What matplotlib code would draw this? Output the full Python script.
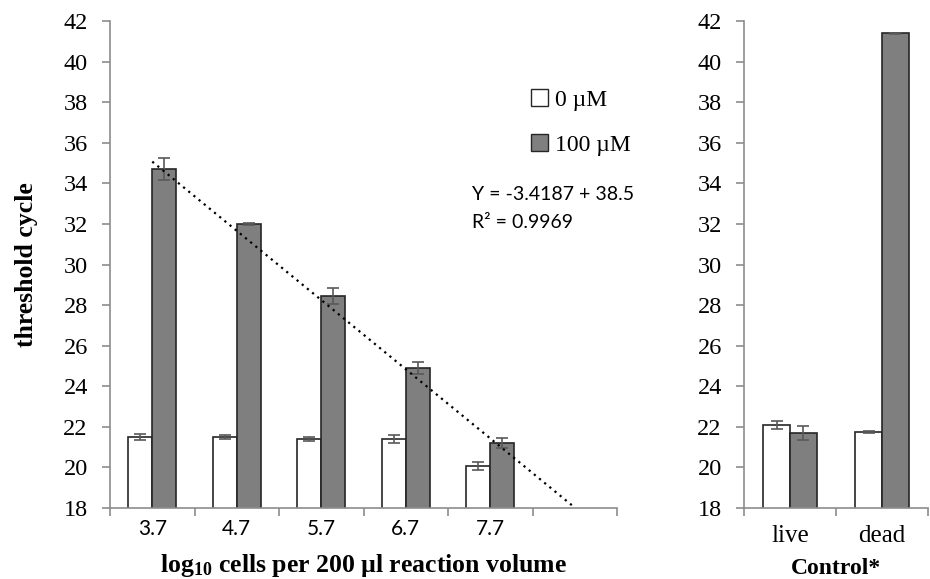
import numpy as np
import matplotlib
matplotlib.use("Agg")
from matplotlib import pyplot as plt
from matplotlib.patches import Patch

# dilution series
dilutions = ["3.7", "4.7", "5.7", "6.7", "7.7"]
ct_0uM = [21.5, 21.5, 21.4, 21.4, 20.05]
err_0uM = [0.15, 0.12, 0.1, 0.22, 0.2]
ct_100uM = [34.7, 32.0, 28.45, 24.9, 21.2]
err_100uM = [0.55, 0.05, 0.4, 0.3, 0.25]

# controls
controls = ["live", "dead"]
ctrl_0uM = [22.1, 21.75]
ctrl_err_0uM = [0.2, 0.05]
ctrl_100uM = [21.7, 41.4]
ctrl_err_100uM = [0.35, 0.03]

y_ticks = list(range(18, 43, 2))

eq_text = "Y = -3.4187 + 38.5"
r2_text = "R² = 0.9969"

serif = "Liberation Serif"
sans = "Lato"
plt.rcParams["font.family"] = serif
plt.rcParams["mathtext.fontset"] = "custom"
plt.rcParams["mathtext.rm"] = "Liberation Serif:bold"
plt.rcParams["mathtext.default"] = "rm"

white_col = "white"
grey_col = "#7f7f7f"
edge_col = "#262626"
err_col = "#595959"
spine_col = "#8c8c8c"

fig = plt.figure(figsize=(9.3, 5.79), dpi=100)
ax1 = fig.add_axes([110 / 930, 1 - 508 / 579, 507 / 930, 487 / 579])
ax2 = fig.add_axes([744 / 930, 1 - 508 / 579, 184 / 930, 487 / 579])


def style_axes(ax, nslots):
    for s in ["top", "right"]:
        ax.spines[s].set_visible(False)
    for s in ["left", "bottom"]:
        ax.spines[s].set_color(spine_col)
        ax.spines[s].set_linewidth(1.2)
    ax.set_ylim(18, 42)
    ax.set_yticks(y_ticks, labels=[str(t) for t in y_ticks],
                  fontfamily=serif, fontsize=17.5)
    ax.set_xlim(-0.5, nslots - 0.5)
    ax.set_xticks(np.arange(-0.5, nslots, 1.0), minor=True)
    ax.tick_params(axis="x", which="major", length=0, pad=8)
    ax.tick_params(axis="x", which="minor", length=6, width=1.2, color=spine_col)
    ax.tick_params(axis="y", length=6, width=1.2, color=spine_col, pad=10)


bw = 0.285

x1 = np.arange(len(dilutions))
ax1.bar(x1 - bw / 2, ct_0uM, bw, color=white_col, edgecolor=edge_col,
        linewidth=1.2, zorder=2)
ax1.bar(x1 + bw / 2, ct_100uM, bw, color=grey_col, edgecolor=edge_col,
        linewidth=1.2, zorder=2)
ax1.errorbar(x1 - bw / 2, ct_0uM, yerr=err_0uM, fmt="none", ecolor=err_col,
             elinewidth=1.2, capsize=4, capthick=1.2, zorder=3)
ax1.errorbar(x1 + bw / 2, ct_100uM, yerr=err_100uM, fmt="none", ecolor=err_col,
             elinewidth=1.2, capsize=4, capthick=1.2, zorder=3)

# linear trendline, forecast forward one category
slope, intercept = np.polyfit(x1, ct_100uM, 1)
xt = np.array([0, len(dilutions)])
ax1.plot(xt, slope * xt + intercept, color="black", linestyle=(0, (1, 2)),
         linewidth=1.6, zorder=4, clip_on=False)

style_axes(ax1, len(dilutions) + 1)
ax1.set_xticks(x1)
ax1.set_xticklabels(dilutions, fontfamily=sans, fontsize=15)
ax1.set_ylabel("threshold cycle", fontsize=18.5, fontweight="bold", labelpad=18)
ax1.set_xlabel("log$_{10}$ cells per 200 µl reaction volume", fontsize=18.5,
               fontweight="bold", labelpad=9)

fig.text(472 / 930, 1 - 195 / 579, eq_text, fontfamily=sans, fontsize=14,
         va="center", ha="left")
fig.text(472 / 930, 1 - 222 / 579, r2_text, fontfamily=sans, fontsize=14,
         va="center", ha="left")

x2 = np.arange(len(controls))
bw2 = 0.29
ax2.bar(x2 - bw2 / 2, ctrl_0uM, bw2, color=white_col, edgecolor=edge_col,
        linewidth=1.2, zorder=2)
ax2.bar(x2 + bw2 / 2, ctrl_100uM, bw2, color=grey_col, edgecolor=edge_col,
        linewidth=1.2, zorder=2)
ax2.errorbar(x2 - bw2 / 2, ctrl_0uM, yerr=ctrl_err_0uM, fmt="none", ecolor=err_col,
             elinewidth=1.2, capsize=4, capthick=1.2, zorder=3)
ax2.errorbar(x2 + bw2 / 2, ctrl_100uM, yerr=ctrl_err_100uM, fmt="none",
             ecolor=err_col, elinewidth=1.2, capsize=4, capthick=1.2, zorder=3)
style_axes(ax2, len(controls))
ax2.set_xticks(x2)
ax2.set_xticklabels(controls, fontsize=18)
ax2.tick_params(axis="x", which="major", pad=12)
ax2.set_xlabel("Control*", fontsize=17, fontweight="bold", labelpad=8)

handles = [Patch(facecolor=white_col, edgecolor=edge_col, linewidth=1.0),
           Patch(facecolor=grey_col, edgecolor=edge_col, linewidth=1.0)]
fig.legend(handles, ["0 µM", "100 µM"], loc="upper left",
           bbox_to_anchor=(510 / 930, 1 - 68 / 579), frameon=False,
           prop={"family": serif, "size": 17}, handlelength=0.7,
           handleheight=0.7, handletextpad=0.3, labelspacing=1.0)

fig.savefig("out.png", dpi=100)
